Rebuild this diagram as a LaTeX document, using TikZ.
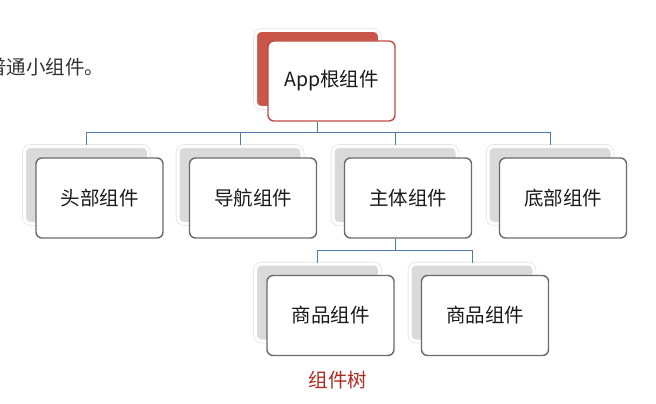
\documentclass[tikz,border=0pt]{standalone}
\usepackage{fontspec}
\setmainfont{Noto Sans CJK SC}
\usepackage{tikz}
\definecolor{rootred}{HTML}{C8574A}
\definecolor{rootline}{HTML}{C04C45}
\definecolor{linkblue}{HTML}{5179AA}
\definecolor{backgray}{HTML}{DADADA}
\definecolor{frameline}{HTML}{6B6B6B}
\definecolor{captionred}{HTML}{B0291F}
\definecolor{plaintext}{HTML}{333333}

\begin{document}
\begin{tikzpicture}[
x=1pt, y=-1pt,
font=\fontsize{19.5}{23}\selectfont,
backbox/.style={rounded corners=6pt, fill=backgray, draw=white, line width=3pt,
  preaction={draw=black!10, line width=4.6pt},
  minimum width=124pt, minimum height=77pt, inner sep=0pt},
rootback/.style={backbox, fill=rootred},
frontbox/.style={rounded corners=6pt, fill=white, draw=frameline, line width=1.4pt,
  minimum width=127pt, minimum height=80pt, inner sep=0pt, text=black!90},
rootfront/.style={frontbox, draw=rootline},
link/.style={draw=linkblue, line width=1pt}
]
\useasboundingbox (0,0) rectangle (656,404);
\node[anchor=west, inner sep=0pt, text=plaintext] (intro) at (-13,67) {普通小组件。};

\node[rootback] (rootb) at (317.5,69) {};
\node[rootfront] (root) at ([shift={(14,12)}]rootb) {App根组件};

\node[backbox] (headb) at (86.5,185) {};
\node[backbox] (navb) at (240,185) {};
\node[backbox] (mainb) at (395,185) {};
\node[backbox] (footb) at (550,185) {};
\node[frontbox] (head) at ([shift={(13,13)}]headb) {头部组件};
\node[frontbox] (nav) at ([shift={(13,13)}]navb) {导航组件};
\node[frontbox] (main) at ([shift={(13,13)}]mainb) {主体组件};
\node[frontbox] (foot) at ([shift={(13,13)}]footb) {底部组件};

\node[backbox] (itemab) at (317.5,302.5) {};
\node[backbox] (itembb) at (472,302.5) {};
\node[frontbox] (itema) at ([shift={(13,13)}]itemab) {商品组件};
\node[frontbox] (itemb) at ([shift={(13,13)}]itembb) {商品组件};

\coordinate (bus1) at (317.5,132);
\coordinate (bus2) at (395,250.5);
\draw[link] (root.south -| rootb) -- (bus1);
\foreach \c in {headb,navb,mainb,footb}
  \draw[link] (bus1) -| (\c.north);
\draw[link] (main.south -| mainb) -- (bus2);
\foreach \c in {itemab,itembb}
  \draw[link] (bus2) -| (\c.north);

\node[text=captionred] (caption) at (338,380) {组件树};
\end{tikzpicture}
\end{document}
